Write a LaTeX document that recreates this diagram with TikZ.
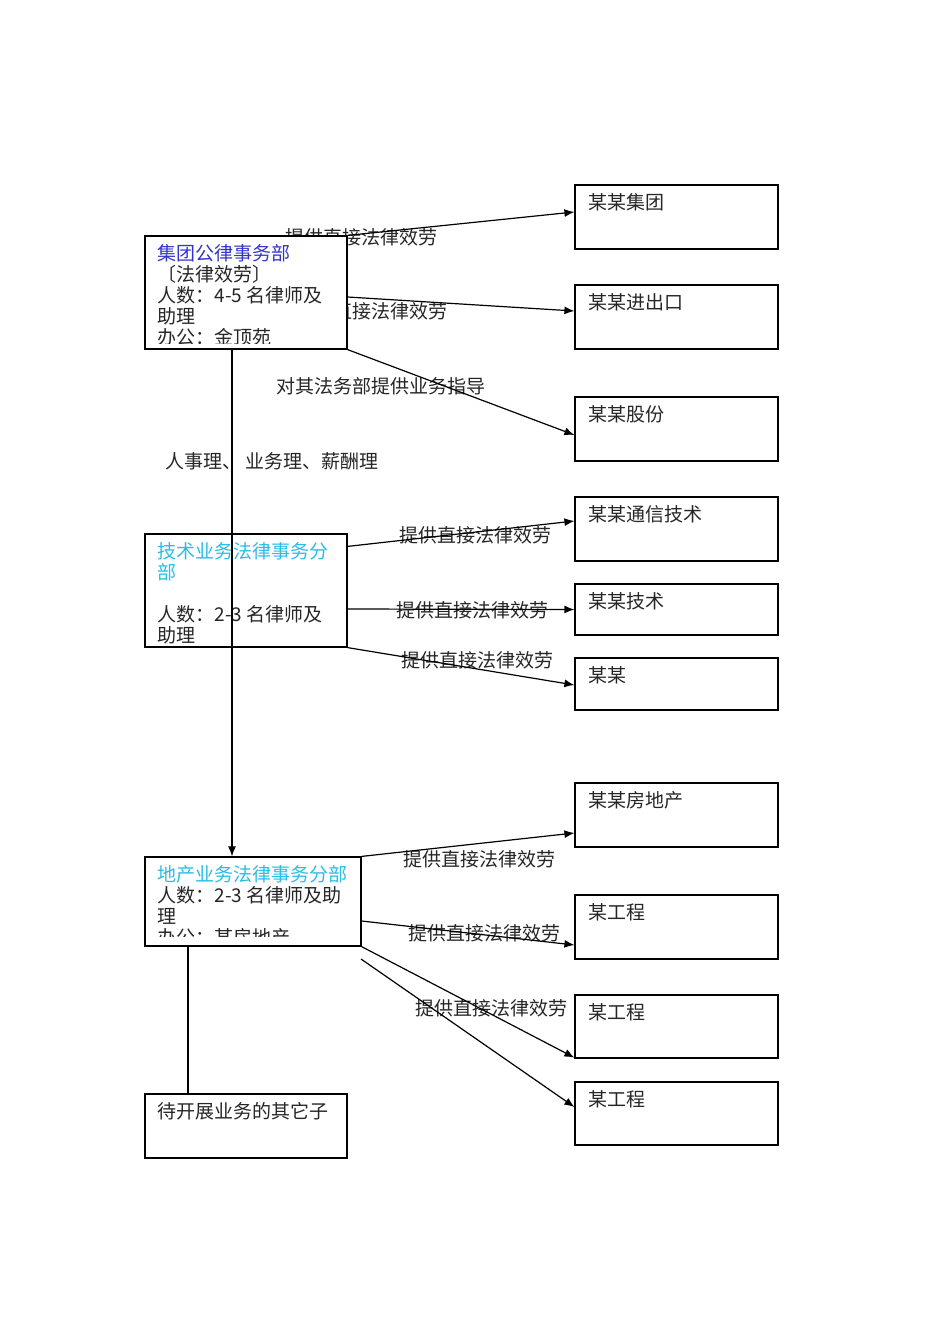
\documentclass[tikz,border=0pt]{standalone}
\usepackage{fontspec}
\newfontfamily\cjk{Noto Sans CJK SC}
\usetikzlibrary{arrows.meta,calc}
\definecolor{tblue}{RGB}{51,51,204}
\definecolor{tcyan}{RGB}{40,190,230}
\begin{document}
\begin{tikzpicture}[x=1pt,y=-1pt,
  box/.style={draw=black, fill=white, line width=1.2pt, inner sep=0pt},
  txt/.style={font=\cjk\fontsize{19}{21}\selectfont, inner sep=0pt, anchor=north west, align=left, text=black!85},
  lbl/.style={font=\cjk\fontsize{19}{21}\selectfont, inner sep=0pt, text=black!85},
  conn/.style={line width=1.2pt, -{Latex[length=10pt,width=8pt]}},
  plain/.style={line width=1.2pt}]
\useasboundingbox[fill=white] (0,0) rectangle (950,1344);

% edge labels (drawn first, boxes may cover them)
\node[lbl] (L1) at (361,237) {提供直接法律效劳};
\node[lbl] (L2) at (371,311) {提供直接法律效劳};
\node[lbl] (L3) at (380.5,386) {对其法务部提供业务指导};
\node[lbl] (L4) at (272,461) {人事理、 业务理、薪酬理};
\node[lbl] (L5) at (475,535) {提供直接法律效劳};
\node[lbl] (L6) at (472,610) {提供直接法律效劳};
\node[lbl] (L7) at (477,660) {提供直接法律效劳};
\node[lbl] (L8) at (479.5,859) {提供直接法律效劳};
\node[lbl] (L9) at (484.5,933) {提供直接法律效劳};
\node[lbl] (L10) at (491.5,1008) {提供直接法律效劳};

% left boxes
\node[box, minimum width=202, minimum height=113] (A) at (246,292.5) {};
\node[box, minimum width=202, minimum height=113] (B) at (246,590.5) {};
\node[box, minimum width=216, minimum height=89] (C) at (253,901.5) {};
\node[box, minimum width=202, minimum height=64] (D) at (246,1126) {};

% right boxes
\node[box, minimum width=203, minimum height=64] (R1) at (676.5,217) {};
\node[box, minimum width=203, minimum height=64] (R2) at (676.5,317) {};
\node[box, minimum width=203, minimum height=64] (R3) at (676.5,429) {};
\node[box, minimum width=203, minimum height=64] (R4) at (676.5,529) {};
\node[box, minimum width=203, minimum height=51] (R5) at (676.5,609.5) {};
\node[box, minimum width=203, minimum height=52] (R6) at (676.5,684) {};
\node[box, minimum width=203, minimum height=64] (R7) at (676.5,815) {};
\node[box, minimum width=203, minimum height=64] (R8) at (676.5,927) {};
\node[box, minimum width=203, minimum height=63] (R9) at (676.5,1026.5) {};
\node[box, minimum width=203, minimum height=63] (R10) at (676.5,1113.5) {};

% box texts
\begin{scope}
\clip ($(A.south west)+(0,-6)$) rectangle (A.north east);
\node[txt] (At) at ($(A.north west)+(13,9)$) {\textcolor{tblue}{集团公律事务部}\\〔法律效劳〕\\人数：4-5 名律师及\\助理\\办公：金顶苑};
\end{scope}
\begin{scope}
\clip (B.south west) rectangle (B.north east);
\node[txt] (Bt) at ($(B.north west)+(13,9)$) {\textcolor{tcyan}{技术业务法律事务分}\\\textcolor{tcyan}{部}\\[21pt]人数：2-3 名律师及\\助理};
\end{scope}
\begin{scope}
\clip ($(C.south west)+(0,-10)$) rectangle (C.north east);
\node[txt] (Ct) at ($(C.north west)+(13,9)$) {\textcolor{tcyan}{地产业务法律事务分部}\\人数：2-3 名律师及助\\理\\办公：某房地产};
\end{scope}
\node[txt] (Dt) at ($(D.north west)+(13,9)$) {待开展业务的其它子};

\node[txt] (R1t) at ($(R1.north west)+(14,9)$) {某某集团};
\node[txt] (R2t) at ($(R2.north west)+(14,9)$) {某某进出口};
\node[txt] (R3t) at ($(R3.north west)+(14,9)$) {某某股份};
\node[txt] (R4t) at ($(R4.north west)+(14,9)$) {某某通信技术};
\node[txt] (R5t) at ($(R5.north west)+(14,9)$) {某某技术};
\node[txt] (R6t) at ($(R6.north west)+(14,9)$) {某某};
\node[txt] (R7t) at ($(R7.north west)+(14,9)$) {某某房地产};
\node[txt] (R8t) at ($(R8.north west)+(14,9)$) {某工程};
\node[txt] (R9t) at ($(R9.north west)+(14,9)$) {某工程};
\node[txt] (R10t) at ($(R10.north west)+(14,9)$) {某工程};

% connectors
\coordinate (vx) at (232,0);
\coordinate (wx) at (188,0);
\coordinate (free) at (361,959);
\draw[conn] (A.north east) -- ($(R1.west)+(0,-5)$);
\draw[conn] ($(A.east)+(0,4.5)$) -- ($(R2.west)+(0,-6)$);
\draw[conn] (A.south east) -- ($(R3.west)+(0,6)$);
\draw[conn] (A.south -| vx) -- (C.north -| vx);
\draw[conn] ($(B.north east)+(0,13)$) -- ($(R4.west)+(0,-8)$);
\draw[conn] ($(B.east)+(0,18.5)$) -- (R5.west);
\draw[conn] (B.south east) -- ($(R6.west)+(0,1)$);
\draw[conn] (C.north east) -- ($(R7.west)+(0,18)$);
\draw[conn] ($(C.east)+(0,19.5)$) -- ($(R8.west)+(0,18)$);
\draw[conn] (C.south east) -- ($(R9.south west)+(0,-1)$);
\draw[conn] (free) -- ($(R10.west)+(0,-6.5)$);
\draw[plain] (C.south -| wx) -- (D.north -| wx);
\end{tikzpicture}
\end{document}
